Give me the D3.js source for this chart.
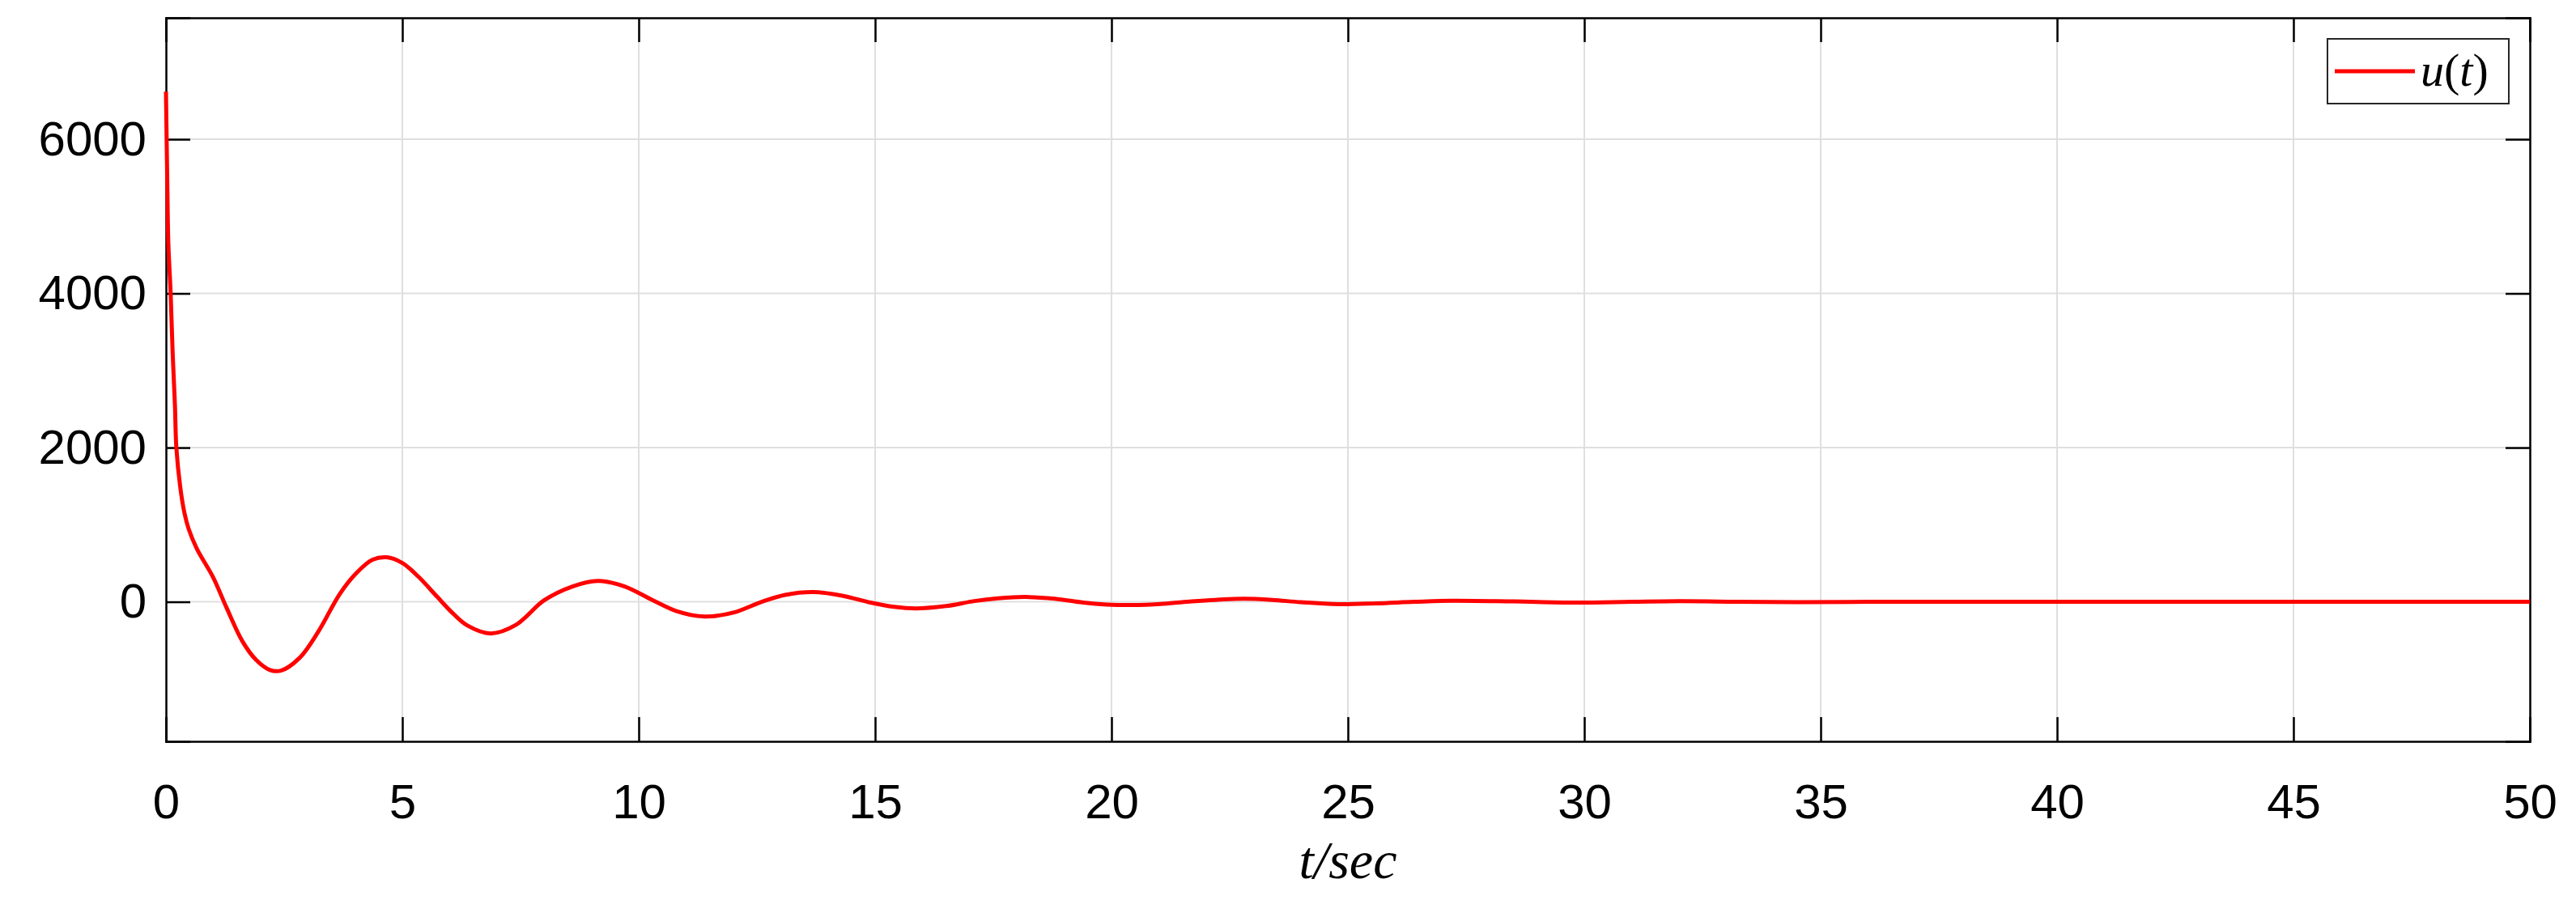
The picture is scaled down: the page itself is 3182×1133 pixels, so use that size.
<!DOCTYPE html>
<html>
<head>
<meta charset="utf-8">
<script src="https://cdn.jsdelivr.net/npm/d3@7"></script>
<style>
  body { margin: 0; background: #fff; }
  svg text { font-family: "Liberation Sans", Arial, sans-serif; }
</style>
</head>
<body>
<svg id="chart" width="3182" height="1133"></svg>
<script>
// time (s) and control signal u(t)
const times = [0, 0.03, 0.05, 0.1, 0.14, 0.19, 0.22, 0.3, 0.39, 0.48, 0.65, 1.0, 1.28, 1.62, 1.91, 2.19, 2.43, 2.83,
  3.22, 3.68, 4.02, 4.37, 4.67, 5.0, 5.34, 5.74, 6.03, 6.37, 6.87, 7.4, 8.0, 8.6, 9.13, 9.7, 10.3, 10.8, 11.39,
  12.0, 12.6, 13.1, 13.7, 14.3, 14.9, 15.4, 15.86, 16.5, 17.1, 17.6, 18.17, 18.8, 19.4, 19.9, 20.43, 21.1, 21.7,
  22.2, 22.8, 23.4, 24.0, 24.8, 25.6, 26.4, 27.2, 28.5, 29.8, 31.0, 32.0, 33.2, 34.5, 36, 38, 40, 42, 44, 46, 48, 50];
const uValues = [6618, 5357, 4653, 3992, 3256, 2552, 2000, 1500, 1155, 945, 693, 315, -74, -515, -756, -882, -893, -725,
  -389, 105, 368, 546, 578, 504, 326, 63, -126, -305, -410, -300, 20, 200, 272, 200, 20, -120, -190,
  -140, 0, 90, 126, 80, -10, -65, -85, -55, 10, 45, 63, 40, -10, -35, -42, -25, 5, 25, 40, 25, -5, -30,
  -20, 0, 15, 5, -10, 0, 8, 2, -5, 0, 0, 0, 0, 0, 0, 0, 0];
const xTicks = [0, 5, 10, 15, 20, 25, 30, 35, 40, 45, 50];
const yTicks = [0, 2000, 4000, 6000];
const legendLabel = ["u", "(", "t", ")"];

const data = times.map((t, i) => ({ t: t, u: uValues[i] }));

const plotLeft = 205, plotRight = 3125, plotTop = 22, plotBottom = 916;
const svg = d3.select('#chart');

const x = d3.scaleLinear().domain([0, 50]).range([plotLeft, plotRight]);
const y = d3.scaleLinear().domain([-1810, 7575]).range([plotBottom, plotTop]);

// grid
svg.append('g').selectAll('line').data(xTicks.slice(1, -1)).enter().append('line')
  .attr('x1', d => x(d)).attr('x2', d => x(d)).attr('y1', plotTop).attr('y2', plotBottom)
  .attr('stroke', '#dfdfdf').attr('stroke-width', 2);
svg.append('g').selectAll('line').data(yTicks).enter().append('line')
  .attr('x1', plotLeft).attr('x2', plotRight).attr('y1', d => y(d)).attr('y2', d => y(d))
  .attr('stroke', '#dfdfdf').attr('stroke-width', 2);

// axes (ticks inward, box)
const tick = 30;
svg.append('g').attr('transform', `translate(0,${plotBottom})`)
  .call(d3.axisBottom(x).tickValues(xTicks).tickSize(-tick).tickPadding(52).tickFormat(d3.format('d')))
  .call(g => g.selectAll('text').attr('font-size', 60).attr('fill', '#000'));
svg.append('g').attr('transform', `translate(0,${plotTop})`)
  .call(d3.axisTop(x).tickValues(xTicks).tickSize(-tick).tickFormat(''));
svg.append('g').attr('transform', `translate(${plotLeft},0)`)
  .call(d3.axisLeft(y).tickValues(yTicks).tickSize(-tick).tickPadding(24).tickFormat(d3.format('d')))
  .call(g => g.selectAll('text').attr('font-size', 60).attr('fill', '#000'));
svg.append('g').attr('transform', `translate(${plotRight},0)`)
  .call(d3.axisRight(y).tickValues(yTicks).tickSize(-tick).tickFormat(''));
svg.selectAll('.domain').attr('stroke', '#000').attr('stroke-width', 2.5);
svg.selectAll('.tick line').attr('stroke', '#000').attr('stroke-width', 2.5);

// line
svg.append('path').datum(data)
  .attr('fill', 'none').attr('stroke', '#ff0000').attr('stroke-width', 5)
  .attr('d', d3.line().x(d => x(d.t)).y(d => y(d.u)).curve(d3.curveCatmullRom));

// x label
svg.append('text').attr('x', (plotLeft + plotRight) / 2).attr('y', 1085)
  .attr('text-anchor', 'middle').attr('font-size', 66)
  .style('font-family', '"Liberation Serif", serif').style('font-style', 'italic')
  .text('t/sec');

// legend
const lg = svg.append('g');
lg.append('rect').attr('x', 2875).attr('y', 48).attr('width', 224).attr('height', 80)
  .attr('fill', '#fff').attr('stroke', '#262626').attr('stroke-width', 2);
lg.append('line').attr('x1', 2884).attr('x2', 2983).attr('y1', 88).attr('y2', 88)
  .attr('stroke', '#ff0000').attr('stroke-width', 5);
const lt = lg.append('text').attr('x', 2990).attr('y', 106).attr('font-size', 58)
  .style('font-family', '"Liberation Serif", serif');
lt.selectAll('tspan').data(legendLabel).enter().append('tspan')
  .style('font-style', d => (d === 'u' || d === 't') ? 'italic' : 'normal')
  .text(d => d);
</script>
</body>
</html>
